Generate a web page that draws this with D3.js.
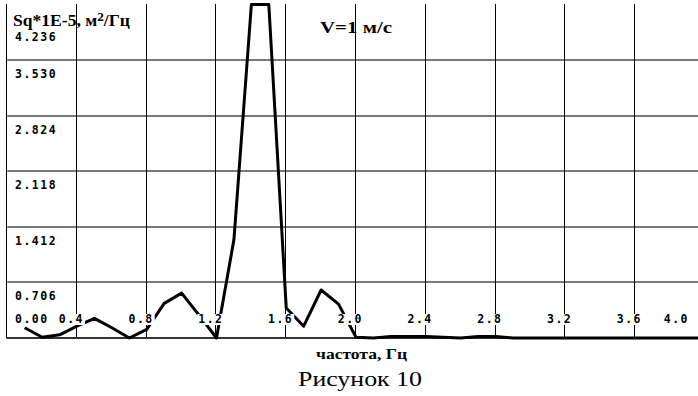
<!DOCTYPE html>
<html>
<head>
<meta charset="utf-8">
<script src="https://cdn.jsdelivr.net/npm/d3@7"></script>
<style>
  body { margin: 0; background: #fff; }
  svg { display: block; }
  .lbl { font-family: "DejaVu Sans Mono", monospace; font-weight: bold; font-size: 11.5px; letter-spacing: 1.5px; fill: #000; }
  .serif { font-family: "Liberation Serif", "Times New Roman", serif; fill: #000; }
</style>
</head>
<body>
<div id="chart"></div>
<script>
// частота, Гц
const freq = [0.1, 0.2, 0.3, 0.4, 0.5, 0.6, 0.7, 0.8, 0.9, 1.0,
              1.1, 1.2, 1.3, 1.4, 1.5, 1.6, 1.7, 1.8, 1.9, 2.0,
              2.1, 2.2, 2.3, 2.4, 2.5, 2.6, 2.7, 2.8, 2.9, 3.0,
              3.1, 3.2, 3.3, 3.4, 3.5, 3.6, 3.7, 3.8, 3.9, 4.0];
// Sq*1E-5, м2/Гц
const sq = [0.13, 0.01, 0.04, 0.15, 0.25, 0.13, 0.00, 0.11, 0.44, 0.57,
            0.29, 0.00, 1.25, 4.236, 4.236, 0.38, 0.15, 0.61, 0.43, 0.01,
            0.00, 0.02, 0.02, 0.02, 0.01, 0.00, 0.02, 0.02, 0.00, 0.00,
            0.00, 0.00, 0.00, 0.00, 0.00, 0.00, 0.00, 0.00, 0.00, 0.00];

const xTicks = [0.4, 0.8, 1.2, 1.6, 2.0, 2.4, 2.8, 3.2, 3.6, 4.0];
const xTickLabels = ["0.4", "0.8", "1.2", "1.6", "2.0", "2.4", "2.8", "3.2", "3.6", "4.0"];
const yTicks = [0, 0.706, 1.412, 2.118, 2.824, 3.530, 4.236];
const yTickLabels = ["0.00", "0.706", "1.412", "2.118", "2.824", "3.530", "4.236"];

const W = 698, H = 396;
const svg = d3.select("#chart").append("svg").attr("width", W).attr("height", H);
svg.append("rect").attr("width", W).attr("height", H).attr("fill", "#fff");

const x = d3.scaleLinear().domain([0, 4.0]).range([7.25, 704.75]);
const y = d3.scaleLinear().domain([0, 4.236]).range([338, 4.5]).clamp(true);

// horizontal grid (gris)
svg.append("g").selectAll("line")
  .data(yTicks.filter(v => v > 0 && v < 4.236))
  .join("line")
  .attr("x1", x(0)).attr("x2", W)
  .attr("y1", d => Math.round(y(d))).attr("y2", d => Math.round(y(d)))
  .attr("stroke", "#7a7a7a").attr("stroke-width", 2);

// vertical grid
svg.append("g").selectAll("line")
  .data([0].concat(xTicks))
  .join("line")
  .attr("x1", d => Math.round(x(d)) - 0.5).attr("x2", d => Math.round(x(d)) - 0.5)
  .attr("y1", 4).attr("y2", 338)
  .attr("stroke", "#000").attr("stroke-width", 1);

// bottom axis
svg.append("line")
  .attr("x1", x(0) - 1).attr("x2", W)
  .attr("y1", y(0)).attr("y2", y(0))
  .attr("stroke", "#333").attr("stroke-width", 2);

// courbe
const line = d3.line().x((d, i) => x(freq[i])).y(d => y(d));
svg.append("path")
  .attr("d", line(sq))
  .attr("fill", "none")
  .attr("stroke", "#000")
  .attr("stroke-width", 3)
  .attr("stroke-linejoin", "round");

// étiquettes avec fond blanc (cachent la grille et la courbe)
function label(txt, px, py, anchor) {
  const g = svg.append("g");
  const r = g.append("rect").attr("fill", "#fff");
  const t = g.append("text").attr("class", "lbl")
    .attr("x", px).attr("y", py).attr("text-anchor", anchor).text(txt);
  const b = t.node().getBBox();
  r.attr("x", b.x - 1).attr("y", b.y + 2).attr("width", b.width + 2).attr("height", b.height - 3);
}

yTicks.forEach((v, i) => {
  let py;
  if (v === 0) py = 323;
  else if (v === 4.236) py = y(v) + 36;
  else py = Math.round(y(v)) + 18;
  label(yTickLabels[i], 15, py, "start");
});

xTicks.forEach((v, i) => {
  const px = Math.min(x(v) + 7, 689);
  label(xTickLabels[i], px, 323, "end");
});

// titres
const t1 = svg.append("text").attr("class", "serif")
  .attr("x", 13).attr("y", 26)
  .attr("font-weight", "bold").attr("font-size", 16)
  .attr("textLength", 117).attr("lengthAdjust", "spacingAndGlyphs");
t1.append("tspan").text("Sq*1E-5, м");
t1.append("tspan").attr("font-size", 12).attr("dy", -5).text("2");
t1.append("tspan").attr("dy", 5).text("/Гц");

svg.append("text").attr("class", "serif")
  .attr("x", 320).attr("y", 33)
  .attr("font-weight", "bold").attr("font-size", 17)
  .attr("textLength", 72).attr("lengthAdjust", "spacingAndGlyphs")
  .text("V=1 м/с");

svg.append("text").attr("class", "serif")
  .attr("x", 316).attr("y", 359)
  .attr("font-weight", "bold").attr("font-size", 14)
  .attr("textLength", 91).attr("lengthAdjust", "spacingAndGlyphs")
  .text("частота, Гц");

svg.append("text").attr("class", "serif")
  .attr("x", 298).attr("y", 386)
  .attr("font-size", 21)
  .attr("textLength", 124).attr("lengthAdjust", "spacingAndGlyphs")
  .text("Рисунок 10");
</script>
</body>
</html>
